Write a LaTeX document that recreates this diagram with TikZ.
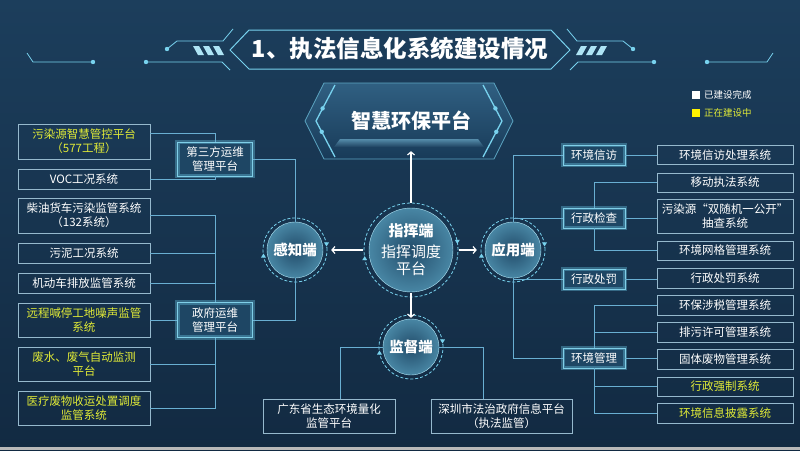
\documentclass[tikz,border=0pt]{standalone}
\usepackage{fontspec}
\setmainfont{Noto Sans CJK SC}
\usetikzlibrary{arrows.meta,calc}

\definecolor{bgtop}{RGB}{28,62,92}
\definecolor{bgbot}{RGB}{18,42,66}
\definecolor{edge}{RGB}{150,185,205}
\definecolor{wire}{RGB}{105,175,210}
\definecolor{ylw}{RGB}{225,235,55}
\definecolor{glow}{RGB}{100,190,220}
\definecolor{deep}{RGB}{30,70,100}
\definecolor{cyanl}{RGB}{120,210,238}
\definecolor{hubin}{RGB}{34,76,106}
\definecolor{hubout}{RGB}{72,134,164}

\begin{document}
\begin{tikzpicture}[x=1pt,y=-1pt,
  sys/.style={draw=edge, line width=0.7pt, text=white, align=center, inner sep=1pt,
    font=\fontsize{11.5}{14}\selectfont},
  lsys/.style={sys, minimum width=132pt},
  rsys/.style={sys, minimum width=136pt},
  glowbox/.style={fill=deep, draw=cyanl!80!white, line width=0.8pt,
    postaction={draw=glow, line width=4.5pt, opacity=0.4},
    text=white, align=center, inner sep=1pt, font=\fontsize{11.5}{14}\selectfont},
  hub/.style={circle, inner color=hubin, outer color=hubout, draw=cyanl!60!white,
    line width=0.4pt, text=white, align=center, inner sep=0pt,
    font=\fontsize{14.5}{17}\selectfont\bfseries},
  ring/.style={draw=cyanl, line width=0.8pt, dash pattern=on 3pt off 2pt},
  wire/.style={draw=wire, line width=0.8pt},
  arrw/.style={draw=white, line width=1.2pt, -{Straight Barb[length=3pt,width=7pt]}},
  deco/.style={draw=cyanl, line width=0.8pt},
  bead/.style={fill=cyanl}
]
\useasboundingbox (0,0) rectangle (800,450);
\shade[top color=bgtop, bottom color=bgbot] (0,0) rectangle (800,450);
\fill[gray!55] (0,447) rectangle (800,450);

% title
\draw[deco, line width=1pt] (230,50) -- (249,30) -- (551,30) -- (570,50) -- (551,69) -- (249,69) -- cycle;
\draw[deco] (27,53) -- (33,62) -- (93,62);
\draw[deco] (146,62) -- (222,62) -- (230,70);
\draw[deco] (167,49) -- (177,41) -- (223,41) -- (233,29);
\draw[deco] (773,53) -- (767,62) -- (707,62);
\draw[deco] (654,62) -- (578,62) -- (570,70);
\draw[deco] (633,49) -- (623,41) -- (577,41) -- (567,29);
\foreach \x/\y in {93/62,146/62,167/49,707/62,654/62,633/49}
  \fill[bead] (\x,\y) circle (2.2pt);
\foreach \i in {0,1,2} {
  \fill[cyanl!60!white] (193+10*\i,46) -- (199+10*\i,46) -- (204+10*\i,55) -- (198+10*\i,55) -- cycle;
  \fill[cyanl!60!white] (607-10*\i,46) -- (601-10*\i,46) -- (596-10*\i,55) -- (602-10*\i,55) -- cycle;
}
\node[text=white, font=\fontsize{23.5}{26}\selectfont\bfseries] (title) at (400,49) {1、执法信息化系统建设情况};

% legend
\node[fill=white, minimum size=8pt, inner sep=0pt] (donekey) at (695.5,95) {};
\node[anchor=west, text=white, inner sep=1pt, font=\fontsize{9.5}{10}\selectfont] (done) at (703,95) {已建设完成};
\node[fill=yellow, minimum size=8pt, inner sep=0pt] (wipkey) at (695.5,113) {};
\node[anchor=west, text=ylw, inner sep=1pt, font=\fontsize{9.5}{10}\selectfont] (wip) at (703,113) {正在建设中};

% top platform
\shade[top color={rgb,255:red,48;green,96;blue,130}, bottom color={rgb,255:red,24;green,58;blue,88}]
  (305,121) -- (324,83) -- (494,83) -- (513,121) -- (494,159) -- (324,159) -- cycle;
\draw[cyanl!70!bgtop, line width=0.8pt] (305,121) -- (324,83) -- (494,83) -- (513,121) -- (494,159) -- (324,159) -- cycle;
\shade[top color={rgb,255:red,85;green,140;blue,170}, bottom color={rgb,255:red,30;green,66;blue,96}]
  (340,139) -- (478,139) -- (484,147) -- (334,147) -- cycle;
\draw[cyanl, line width=1.3pt] (335,85) -- (316,121) -- (335,157);
\draw[cyanl, line width=1.3pt] (483,85) -- (502,121) -- (483,157);
\foreach \x/\y in {322.6/108.4,321.7/131.8,495.4/108.4,496.3/131.8}
  \fill[cyanl] (\x,\y) circle (2.2pt);
\node[text=white, minimum width=170pt, minimum height=60pt, font=\fontsize{20}{22}\selectfont\bfseries] (eco) at (411,121) {智慧环保平台};

% left systems
\node[lsys, text=ylw, minimum height=35pt] (pol) at (84,141.5) {污染源智慧管控平台\\（577工程）};
\node[lsys, minimum height=20pt] (voc) at (84,179) {VOC工况系统};
\node[lsys, minimum height=35pt] (diesel) at (84,215.5) {柴油货车污染监管系统\\（132系统）};
\node[lsys, minimum height=20pt] (sludge) at (84,253) {污泥工况系统};
\node[lsys, minimum height=20pt] (motor) at (84,283) {机动车排放监管系统};
\node[lsys, text=ylw, minimum height=34pt] (noise) at (84,320) {远程喊停工地噪声监管\\系统};
\node[lsys, text=ylw, minimum height=34pt] (water) at (84,364) {废水、废气自动监测\\平台};
\node[lsys, text=ylw, minimum height=34pt] (medic) at (84,408) {医疗废物收运处置调度\\监管系统};

\node[glowbox, minimum width=75pt, minimum height=34pt] (third) at (215,159) {第三方运维\\管理平台};
\node[glowbox, minimum width=75pt, minimum height=35pt] (gov) at (215,320) {政府运维\\管理平台};

% hubs
\node[hub, minimum size=56pt] (sense) at (295,250) {感知端};
\node[hub, minimum size=84pt, font=\fontsize{15}{17}\selectfont] (cmd) at (411,250) {{\bfseries 指挥端}\\[4pt]指挥调度\\平台};
\node[hub, minimum size=56pt] (app) at (513,250) {应用端};
\node[hub, minimum size=56pt] (sup) at (411,347) {监督端};
\foreach \n/\r in {sense/32,cmd/47,app/32,sup/32} {
  \draw[ring] (\n) circle (\r pt);
  \fill[cyanl] (\n) ++(190:\r pt) ++(-2.5pt,-2pt) -- ++(5pt,0pt) -- ++(-2.5pt,4pt) -- cycle;
  \fill[cyanl] (\n) ++(10:\r pt) ++(-2.5pt,2pt) -- ++(5pt,0pt) -- ++(-2.5pt,-4pt) -- cycle;
}

% supervision platforms
\node[sys, minimum width=132pt, minimum height=34pt] (gd) at (329,416) {广东省生态环境量化\\监管平台};
\node[sys, minimum width=141pt, minimum height=34pt] (sz) at (501.5,416) {深圳市法治政府信息平台\\（执法监管）};

% application categories
\node[glowbox, minimum width=62pt, minimum height=20pt] (visit) at (594,155) {环境信访};
\node[glowbox, minimum width=62pt, minimum height=20pt] (check) at (594,218) {行政检查};
\node[glowbox, minimum width=62pt, minimum height=20pt] (punish) at (594,279) {行政处罚};
\node[glowbox, minimum width=62pt, minimum height=20pt] (manage) at (594,358) {环境管理};

% right systems
\node[rsys, minimum height=19pt] (visitsys) at (725,155) {环境信访处理系统};
\node[rsys, minimum height=19pt] (mobile) at (725,182.5) {移动执法系统};
\node[rsys, minimum height=34pt] (random) at (725,216) {污染源“双随机一公开”\\抽查系统};
\node[rsys, minimum height=19pt] (grid) at (725,250.5) {环境网格管理系统};
\node[rsys, minimum height=20pt] (punishsys) at (725,278) {行政处罚系统};
\node[rsys, minimum height=20pt] (tax) at (725,305) {环保涉税管理系统};
\node[rsys, minimum height=20pt] (permit) at (725,332) {排污许可管理系统};
\node[rsys, minimum height=20pt] (solid) at (725,359) {固体废物管理系统};
\node[rsys, text=ylw, minimum height=19pt] (force) at (725,386.5) {行政强制系统};
\node[rsys, text=ylw, minimum height=20pt] (disclose) at (725,413) {环境信息披露系统};

% connectors
\draw[wire] ([yshift=8pt]pol.east) -| (third.north);
\draw[wire] (voc.east) -| (third.south);
\draw[wire] (third.east) -| (sense.north);
\draw[wire] (diesel.east) -| (gov.north);
\draw[wire] (sludge.east) -| (gov.north);
\draw[wire] (motor.east) -| (gov.north);
\draw[wire] (noise.east) -- (gov.west);
\draw[wire] (water.east) -| (gov.south);
\draw[wire] (medic.east) -| (gov.south);
\draw[wire] (gov.east) -| (sense.south);
\draw[wire] (sup.west) -| ([xshift=11pt]gd.north);
\draw[wire] (sup.east) -| ([xshift=-18pt]sz.north);
\draw[wire] (app.north) |- (visit.west);
\draw[wire] (check.west) -| (app.north);
\draw[wire] (punish.west) -| (app.south);
\draw[wire] (app.south) |- (manage.west);
\draw[wire] (visit.east) -- (visitsys.west);
\draw[wire] (check.north) |- (mobile.west);
\draw[wire] (check.east) -- (check.east -| random.west);
\draw[wire] (check.south) |- (grid.west);
\draw[wire] (punish.east) -- (punish.east -| punishsys.west);
\draw[wire] (manage.north) |- (tax.west);
\draw[wire] (manage.north) |- (permit.west);
\draw[wire] (manage.east) -- (manage.east -| solid.west);
\draw[wire] (manage.south) |- (force.west);
\draw[wire] (manage.south) |- (disclose.west);

\draw[arrw, shorten <=6pt, shorten >=8pt] (cmd) -- (sense);
\draw[arrw, shorten <=6pt, shorten >=8pt] (cmd) -- (app);
\draw[arrw, shorten <=1pt, shorten >=1pt] (cmd) -- (sup);
\draw[arrw, shorten <=5pt] (cmd) -- (eco);
\end{tikzpicture}
\end{document}
